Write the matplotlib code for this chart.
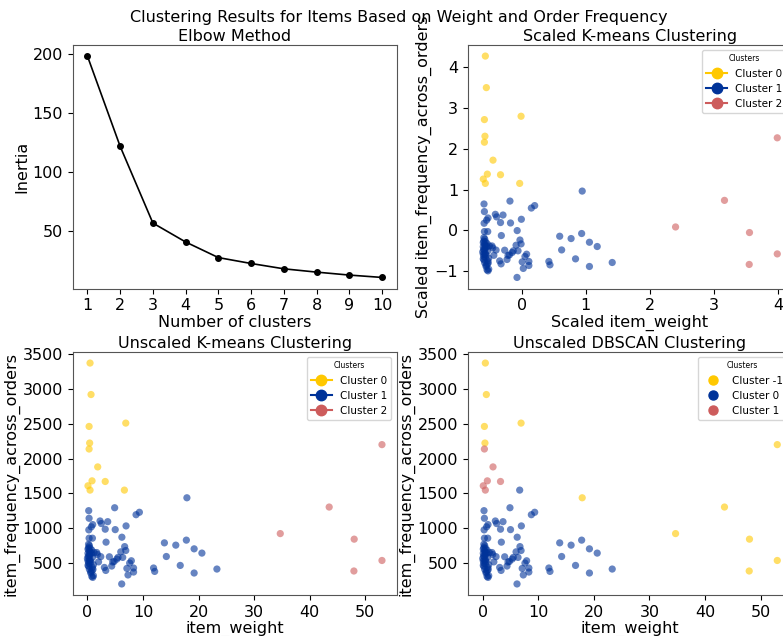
import numpy as np
import matplotlib
matplotlib.use('Agg')
from matplotlib import pyplot as plt
from matplotlib.lines import Line2D

# elbow curve
k_values = [1, 2, 3, 4, 5, 6, 7, 8, 9, 10]
inertia = [198, 121.6, 56.7, 40.7, 27.5, 22.5, 18.0, 15.2, 12.7, 10.7]

# points grouped by (kmeans label, dbscan label)
# kmeans 0, dbscan -1
g_a_weight = [0.47, 0.65, 6.9, 0.3, 0.4]
g_a_freq = [3371, 2919, 2509, 2461, 2223]
# kmeans 0, dbscan 1
g_b_weight = [0.3, 1.85, 0.83, 3.2, 0.1, 0.47]
g_b_freq = [2137, 1880, 1680, 1671, 1609, 1547]
# kmeans 0, dbscan 0
g_c_weight = [6.65]
g_c_freq = [1547]
# kmeans 1, dbscan -1
g_e_weight = [17.9]
g_e_freq = [1437]
# kmeans 1, dbscan 0
g_d_weight = [0.23, 0.3, 4.9, 8.75, 9.35, 0.95, 0.7, 0.25, 2.27, 2.5, 3.65, 3.2, 5.0, 6.95,
              0.3, 0.9, 6.2, 3.35, 13.85, 15.9, 17.8, 19.2, 20.6, 14.2, 16.7, 11.9, 12.1, 19.2,
              23.3, 6.7, 6.9, 6.0, 0.36, 0.47, 0.3, 0.78, 0.72, 1.2, 1.67, 1.8, 0.47, 0.9, 0.36,
              0.47, 0.23, 0.9, 1.08, 0.83, 0.6, 1.08, 0.95, 0.1, 0.6, 1.0, 0.78, 0.1, 0.47, 0.0,
              0.1, 0.2, 0.1, 0.3, 0.5, 0.2, 2.4, 2.0, 3.95, 5.5, 5.3, 6.35, 4.8, 4.55, 7.9, 7.6,
              7.1, 8.3, 8.3, 7.3, 3.05, 3.3, 4.37, 6.17, 0.15, 0.4, 0.2, 0.6, 0.35]
g_d_freq = [1252, 1143, 1294, 1194, 1229, 1052, 1020, 976, 1104, 1067, 1094, 986, 980, 1033,
            857, 857, 871, 800, 790, 757, 829, 704, 643, 594, 466, 429, 380, 357,
            414, 736, 680, 661, 750, 714, 676, 686, 643, 651, 651, 623, 614, 581, 533,
            486, 451, 437, 476, 390, 357, 319, 294, 466, 376, 409, 309, 533, 543, 566,
            700, 770, 640, 590, 660, 720, 592, 517, 590, 581, 557, 581, 522, 515, 533, 500,
            423, 429, 371, 329, 437, 394, 457, 200, 600, 630, 500, 520, 410]
# kmeans 2, dbscan -1
g_f_weight = [53.0, 43.5, 34.7, 48.0, 53.0, 47.95]
g_f_freq = [2200, 1304, 923, 843, 537, 386]

# scaler parameters (mean, std)
weight_mean, weight_std = 7.0, 11.55
freq_mean, freq_std = 873.0, 585.0

weight = np.array(g_a_weight + g_b_weight + g_c_weight + g_e_weight + g_d_weight + g_f_weight)
freq = np.array(g_a_freq + g_b_freq + g_c_freq + g_e_freq + g_d_freq + g_f_freq, dtype=float)
km_labels = np.array([0]*5 + [0]*6 + [0]*1 + [1]*1 + [1]*len(g_d_weight) + [2]*6)
db_labels = np.array([-1]*5 + [1]*6 + [0]*1 + [-1]*1 + [0]*len(g_d_weight) + [-1]*6)

# standard scaling
w_scaled = (weight - weight_mean) / weight_std
f_scaled = (freq - freq_mean) / freq_std

colors = ['#FFC800', '#003399', '#CD5C5C']

W, H = 783, 636
fig = plt.figure(figsize=(W/100, H/100), dpi=100)
fs = 11.5
pt_size = 27

def box(l, t, r, b):
    return [l/W, 1 - b/H, (r - l)/W, (b - t)/H]

ax1 = fig.add_axes(box(72.7, 45, 396.7, 288.5))
ax2 = fig.add_axes(box(468, 45, 792, 288.5))
ax3 = fig.add_axes(box(72.7, 352, 396.7, 595))
ax4 = fig.add_axes(box(468, 352, 792, 595))

fig.suptitle('Clustering Results for Items Based on Weight and Order Frequency', fontsize=fs,
             x=399/W, y=0.985)

# elbow
ax1.plot(k_values, inertia, color='black', marker='o', markersize=4, linewidth=1.2)
ax1.set_title('Elbow Method', fontsize=fs, pad=3)
ax1.set_xlabel('Number of clusters', fontsize=fs, labelpad=1)
ax1.set_ylabel('Inertia', fontsize=fs, labelpad=2)
ax1.set_xticks(k_values)

def kmeans_legend(ax):
    handles = [Line2D([0], [0], color=colors[i], marker='o', markersize=7.5, label='Cluster %d' % i)
               for i in range(3)]
    ax.legend(handles=handles, title='Clusters', loc='upper right', fontsize=7.5, title_fontsize=5.5)

# scaled kmeans
for i in range(3):
    m = km_labels == i
    ax2.scatter(w_scaled[m], f_scaled[m], color=colors[i], s=pt_size, alpha=0.6, edgecolors='none')
ax2.set_title('Scaled K-means Clustering', fontsize=fs, pad=3)
ax2.set_xlabel('Scaled item_weight', fontsize=fs, labelpad=1)
ax2.set_ylabel('Scaled item_frequency_across_orders', fontsize=fs, labelpad=2)
kmeans_legend(ax2)

# unscaled kmeans
for i in range(3):
    m = km_labels == i
    ax3.scatter(weight[m], freq[m], color=colors[i], s=pt_size, alpha=0.6, edgecolors='none')
ax3.set_title('Unscaled K-means Clustering', fontsize=fs, pad=3)
ax3.set_xlabel('item_weight', fontsize=fs, labelpad=1)
ax3.set_ylabel('item_frequency_across_orders', fontsize=fs, labelpad=2)
kmeans_legend(ax3)

# dbscan
db_ids = [-1, 0, 1]
for i, lab in enumerate(db_ids):
    m = db_labels == lab
    ax4.scatter(weight[m], freq[m], color=colors[i], s=pt_size, alpha=0.6, edgecolors='none')
ax4.set_title('Unscaled DBSCAN Clustering', fontsize=fs, pad=3)
ax4.set_xlabel('item_weight', fontsize=fs, labelpad=1)
ax4.set_ylabel('item_frequency_across_orders', fontsize=fs, labelpad=2)
handles = [Line2D([0], [0], color=colors[i], marker='o', linestyle='', markersize=6.5, label='Cluster %d' % lab)
           for i, lab in enumerate(db_ids)]
ax4.legend(handles=handles, title='Clusters', loc='upper right', fontsize=7.5, title_fontsize=5.5)

for ax in [ax1, ax2, ax3, ax4]:
    ax.tick_params(labelsize=fs)
    for sp in ax.spines.values():
        sp.set_color('#555555')

fig.savefig('out.png', dpi=100)
